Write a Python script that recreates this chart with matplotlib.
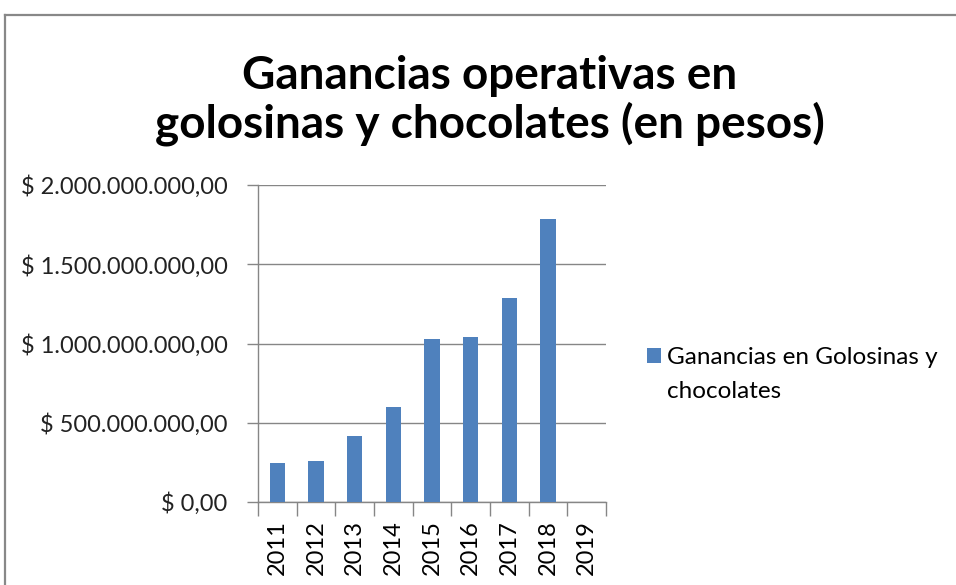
import matplotlib.pyplot as plt
from matplotlib.lines import Line2D
from matplotlib.transforms import IdentityTransform
from matplotlib.ticker import FuncFormatter, FixedLocator, NullFormatter

plt.rcParams['font.family'] = ['Lato', 'DejaVu Sans']

# datos por año (pesos)
anios = ['2011', '2012', '2013', '2014', '2015', '2016', '2017', '2018', '2019']
ganancias = [248e6, 257e6, 418e6, 597e6, 1030e6, 1041e6, 1285e6, 1784e6, 0]
serie = ['Ganancias en Golosinas y', 'chocolates']
titulo = 'Ganancias operativas en\ngolosinas y chocolates (en pesos)'

GRIS = '#868686'
AZUL = '#4F81BD'
W, H = 956, 585


def pesos(v, pos=None):
    # formato 1.000.000,00
    s = f'{v:,.2f}'
    s = s.replace(',', 'X').replace('.', ',').replace('X', '.')
    return f'$ {s}'


fig = plt.figure(figsize=(W / 100, H / 100), dpi=100)
ax = fig.add_axes([258 / W, 83 / H, 348 / W, 317 / H])

x = list(range(len(anios)))
ax.bar(x, ganancias, width=0.4, color=AZUL, label=serie[0], zorder=3)

ax.set_xlim(-0.5, len(anios) - 0.5)
ax.set_ylim(0, 2e9)
ax.set_yticks([0, 5e8, 1e9, 1.5e9, 2e9])
ax.yaxis.set_major_formatter(FuncFormatter(pesos))
ax.grid(axis='y', color=GRIS, linewidth=1.0, zorder=0)

# marcas entre categorías, etiquetas en el centro
ax.xaxis.set_major_locator(FixedLocator([i - 0.5 for i in range(len(anios) + 1)]))
ax.xaxis.set_major_formatter(NullFormatter())
ax.xaxis.set_minor_locator(FixedLocator(x))
ax.set_xticklabels(anios, minor=True, rotation=90, fontsize=17)
ax.tick_params(axis='x', which='major', length=10, color=GRIS, width=1)
ax.tick_params(axis='x', which='minor', length=0, pad=13)
ax.tick_params(axis='y', length=8, color=GRIS, width=1, labelsize=17,
               pad=14, labelcolor='#222222')

for lado in ['top', 'right']:
    ax.spines[lado].set_visible(False)
for lado in ['left', 'bottom']:
    ax.spines[lado].set_color(GRIS)
    ax.spines[lado].set_linewidth(1.0)

fig.text(0.5125, 1 - 55 / H, titulo, ha='center', va='top', fontsize=33,
         fontweight='bold', linespacing=1.13)

# leyenda: cuadro alineado con la primera línea
leg = fig.legend(loc='center left', bbox_to_anchor=(647 / W, 1 - 358 / H),
                 frameon=False, fontsize=17.5, handlelength=0.58,
                 handleheight=0.58, handletextpad=0.25, borderpad=0,
                 borderaxespad=0)
fig.canvas.draw()
bb = leg.get_texts()[0].get_window_extent()
fig.text(bb.x0, bb.y0 - 33, serie[1], transform=IdentityTransform(),
         fontsize=17.5, ha='left', va='bottom')

# marco del gráfico
fig.add_artist(Line2D([4.5 / W, 4.5 / W], [0, 1 - 14.5 / H],
                      transform=fig.transFigure, color='#888888', linewidth=1.6))
fig.add_artist(Line2D([4.5 / W, 1], [1 - 14.5 / H, 1 - 14.5 / H],
                      transform=fig.transFigure, color='#888888', linewidth=1.6))

fig.savefig('out.png', dpi=100)
